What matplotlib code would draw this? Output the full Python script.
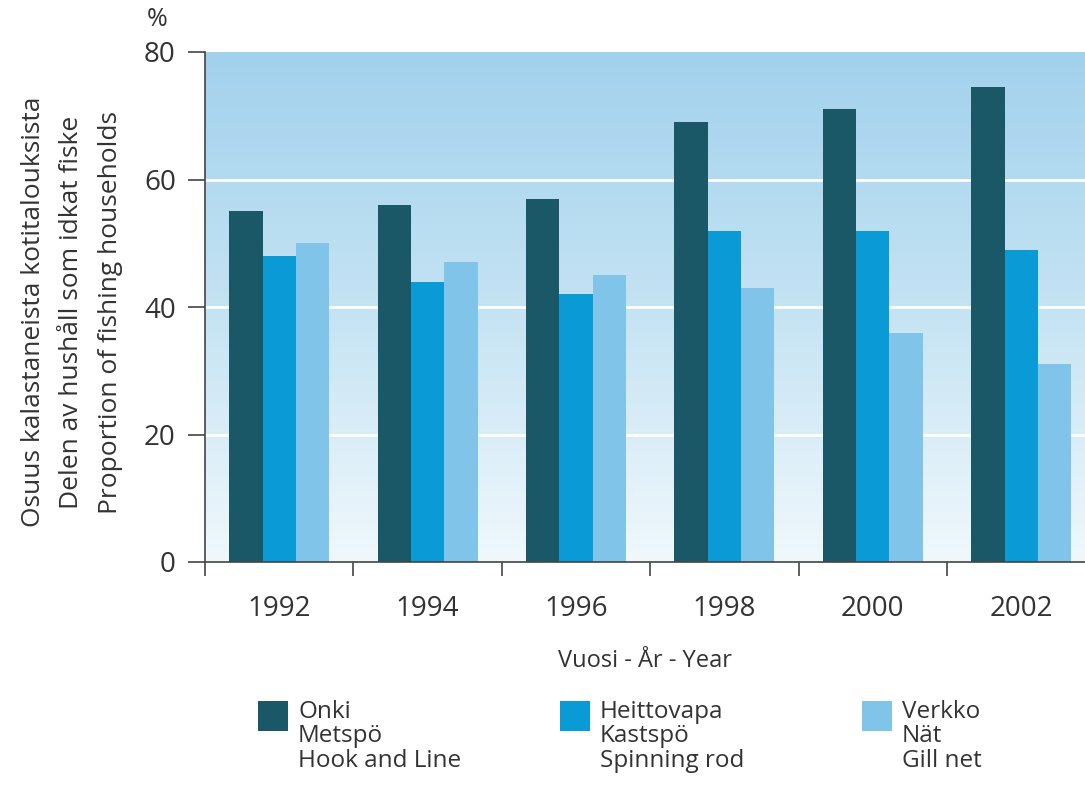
import numpy as np
import matplotlib
matplotlib.use("Agg")
import matplotlib.pyplot as plt
from matplotlib.colors import LinearSegmentedColormap
from matplotlib.patches import Rectangle

years = ["1992", "1994", "1996", "1998", "2000", "2002"]
onki = [55, 56, 57, 69, 71, 74.5]
heittovapa = [48, 44, 42, 52, 52, 49]
verkko = [50, 47, 45, 43, 36, 31]
series_labels = ["Onki\nMetspö\nHook and Line",
                 "Heittovapa\nKastspö\nSpinning rod",
                 "Verkko\nNät\nGill net"]
colors = ["#1a5868", "#0a9ad6", "#80c4e9"]
yticks = [0, 20, 40, 60, 80]

plt.rcParams['font.family'] = ['Open Sans', 'DejaVu Sans']
txt = "#333333"

fig = plt.figure(figsize=(10.85, 7.88), dpi=100)
ax = fig.add_axes([205/1085, 1-562/788, 1-205/1085, 510/788])

x = np.arange(len(years))
w = 0.225
xmax = -0.5 + 880/148.4

# gradient background
cmap = LinearSegmentedColormap.from_list("bg", ["#f0f8fc", "#c4e3f3", "#a2d1ed"])
grad = np.linspace(0, 1, 256).reshape(-1, 1)
ax.imshow(grad, cmap=cmap, origin="lower", aspect="auto",
          extent=[-0.5, 6.5, 0, 80], zorder=0)

for v in [20, 40, 60]:
    ax.axhline(v, color="white", lw=2, zorder=1)

for i, (vals, c) in enumerate(zip([onki, heittovapa, verkko], colors)):
    ax.bar(x + (i-1)*w, vals, width=w, color=c, zorder=2, linewidth=0)

for s in ["top", "right"]:
    ax.spines[s].set_visible(False)
for s in ["left", "bottom"]:
    ax.spines[s].set_color("#444444")
    ax.spines[s].set_linewidth(1.2)

ax.set_yticks(yticks)
ax.set_yticklabels([str(t) for t in yticks], fontsize=20, color=txt)
ax.tick_params(axis="y", length=12, width=1.2, color="#444444", pad=9)

ax.set_xticks(np.arange(-0.5, 5, 1.0))
ax.set_xticklabels([])
ax.tick_params(axis="x", length=10, width=1.2, color="#444444")
ax.set_xlim(-0.5, xmax)
ax.set_ylim(0, 80)
for xi, yr in zip(x, years):
    ax.text(xi, -7.4, yr, ha="center", va="center", fontsize=20, color=txt,
            transform=ax.transData, clip_on=False)

fig.text(645/1085, 1-661/788, "Vuosi - År - Year", ha="center", va="center",
         fontsize=17, color=txt)
fig.text(157/1085, 1-20/788, "%", ha="center", va="center", fontsize=18, color=txt)
fig.text(72/1085, 1-312/788,
         "Osuus kalastaneista kotitalouksista\nDelen av hushåll som idkat fiske\nProportion of fishing households",
         rotation=90, ha="center", va="center", multialignment="center",
         fontsize=19, color=txt, linespacing=1.7)

# legend
for i, (lab, c) in enumerate(zip(series_labels, colors)):
    lx = (258 + i*302)
    fig.patches.append(Rectangle((lx/1085, 1-731/788), 30/1085, 30/788,
                                 transform=fig.transFigure, color=c, lw=0))
    fig.text((lx+40)/1085, 1-700/788, lab, ha="left", va="top",
             fontsize=17.5, color=txt, linespacing=1.02)

fig.savefig("out.png", dpi=100)
